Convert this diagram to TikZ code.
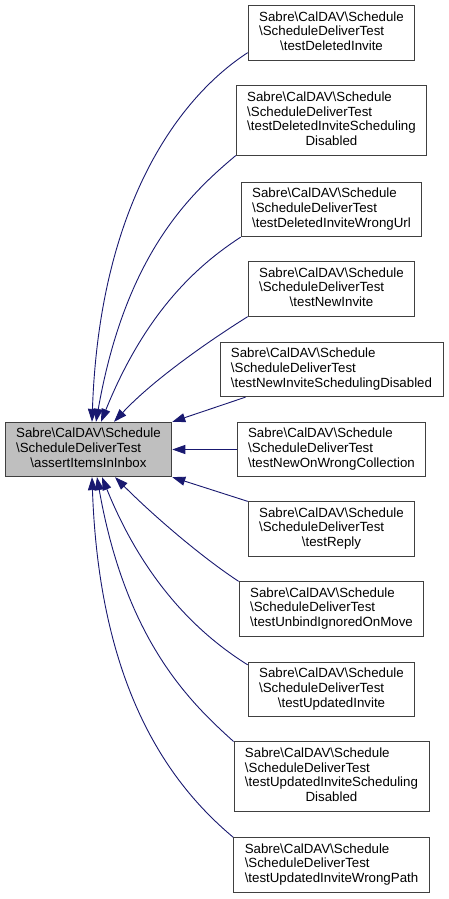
\documentclass[tikz,border=0pt]{standalone}
\usepackage{fontspec}
\setmainfont{Liberation Sans}
\usetikzlibrary{arrows.meta,positioning}
\definecolor{edgeblue}{HTML}{191970}
\definecolor{boxgrey}{HTML}{404040}
\definecolor{mainfill}{HTML}{BFBFBF}
\newcommand{\bsl}{\textbackslash}
% first lines flush left, last line centred
\newcommand{\lbl}[2]{\begin{tabular}{@{}l@{}}#1\\\multicolumn{1}{@{}c@{}}{#2}\end{tabular}}

\begin{document}
\begin{tikzpicture}[font=\fontsize{13.3}{14.8}\selectfont]
\tikzset{
    %Define style for caller boxes
    meth/.style={
           rectangle,
           draw=boxgrey, line width=0.9pt,
           fill=white,
           inner xsep=11pt,
           inner ysep=5pt},
    %Define style for the called function
    focus/.style={
           meth,
           fill=mainfill},
    % Define arrow style
    call/.style={
           -{Triangle[length=13pt,width=9pt]},
           draw=edgeblue,
           line width=0.9pt}
}
	\path[use as bounding box] (0,0) rectangle (448pt,-899pt);

	\node[focus] (assert) at (88.5pt,-449.5pt) {\lbl{Sabre\bsl CalDAV\bsl Schedule\\\bsl ScheduleDeliverTest}{\bsl assertItemsInInbox}};
 %nodes

	\node[meth,shift={(243pt,416.5pt)}] (deleted) at (assert) {\lbl{Sabre\bsl CalDAV\bsl Schedule\\\bsl ScheduleDeliverTest}{\bsl testDeletedInvite}};

	\node[meth,shift={(243pt,329pt)}] (delsched) at (assert) {\lbl{Sabre\bsl CalDAV\bsl Schedule\\\bsl ScheduleDeliverTest\\\bsl testDeletedInviteScheduling}{Disabled}};

	\node[meth,shift={(243pt,240pt)}] (delurl) at (assert) {\lbl{Sabre\bsl CalDAV\bsl Schedule\\\bsl ScheduleDeliverTest}{\bsl testDeletedInviteWrongUrl}};

	\node[meth,shift={(243pt,160.5pt)}] (newinv) at (assert) {\lbl{Sabre\bsl CalDAV\bsl Schedule\\\bsl ScheduleDeliverTest}{\bsl testNewInvite}};

	\node[meth,shift={(243pt,80pt)}] (newsched) at (assert) {\lbl{Sabre\bsl CalDAV\bsl Schedule\\\bsl ScheduleDeliverTest}{\bsl testNewInviteSchedulingDisabled}};

	\node[meth,shift={(243pt,0pt)}] (wrongcoll) at (assert) {\lbl{Sabre\bsl CalDAV\bsl Schedule\\\bsl ScheduleDeliverTest}{\bsl testNewOnWrongCollection}};

	\node[meth,shift={(243pt,-79.5pt)}] (reply) at (assert) {\lbl{Sabre\bsl CalDAV\bsl Schedule\\\bsl ScheduleDeliverTest}{\bsl testReply}};

	\node[meth,shift={(243pt,-159.5pt)}] (unbind) at (assert) {\lbl{Sabre\bsl CalDAV\bsl Schedule\\\bsl ScheduleDeliverTest}{\bsl testUnbindIgnoredOnMove}};

	\node[meth,shift={(243pt,-240pt)}] (updinv) at (assert) {\lbl{Sabre\bsl CalDAV\bsl Schedule\\\bsl ScheduleDeliverTest}{\bsl testUpdatedInvite}};

	\node[meth,shift={(243pt,-327pt)}] (updsched) at (assert) {\lbl{Sabre\bsl CalDAV\bsl Schedule\\\bsl ScheduleDeliverTest\\\bsl testUpdatedInviteScheduling}{Disabled}};

	\node[meth,shift={(243pt,-415.5pt)}] (updpath) at (assert) {\lbl{Sabre\bsl CalDAV\bsl Schedule\\\bsl ScheduleDeliverTest}{\bsl testUpdatedInviteWrongPath}};

	\path ([yshift=8pt]deleted.south west) edge[call,out=213,in=88,out distance=80pt,in distance=220pt] ([xshift=3.5pt]assert.north);
	\path (delsched.south west) edge[call,out=220,in=80,out distance=60pt,in distance=170pt] ([xshift=7.5pt]assert.north);
	\path (delurl.south west) edge[call,out=213,in=68,out distance=50pt,in distance=120pt] ([xshift=12.5pt]assert.north);
	\path (newinv.south west) edge[call,out=212,in=47,out distance=40pt,in distance=60pt] ([xshift=25.5pt]assert.north);
	\path ([xshift=26pt]newsched.south west) edge[call] (assert.north east);
	\path (wrongcoll.west) edge[call] (assert.east);
	\path (reply.north west) edge[call] (assert.south east);
	\path (unbind.north west) edge[call,out=147,in=-45,out distance=40pt,in distance=60pt] ([xshift=26.5pt]assert.south);
	\path ([yshift=-3pt]updinv.north west) edge[call,out=148,in=-68,out distance=50pt,in distance=120pt] ([xshift=13.5pt]assert.south);
	\path (updsched.north west) edge[call,out=138,in=-80,out distance=60pt,in distance=165pt] ([xshift=8.5pt]assert.south);
	\path (updpath.north west) edge[call,out=140,in=-88,out distance=80pt,in distance=215pt] ([xshift=3.5pt]assert.south);

\end{tikzpicture}
\end{document}
